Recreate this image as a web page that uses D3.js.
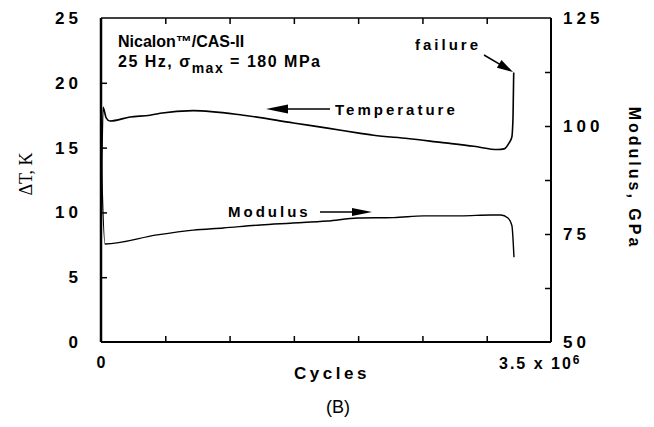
<!DOCTYPE html>
<html>
<head>
<meta charset="utf-8">
<script src="https://cdn.jsdelivr.net/npm/d3@7"></script>
<style>
  body { margin: 0; background: #fff; }
  text { font-family: "Liberation Sans", Arial, sans-serif; fill: #000; }
  .bold { font-weight: bold; }
</style>
</head>
<body>
<div id="chart"></div>
<script>
// Data (cycles in millions)
var tempCycles = [0, 0.016, 0.04, 0.07, 0.226, 0.382, 0.46, 0.717, 1.107, 1.497, 1.762, 2.019, 2.12, 2.385, 2.643, 2.9, 3.087, 3.134, 3.173, 3.195, 3.205, 3.21];
var tempDeltaT = [8.0, 18.1, 17.3, 17.05, 17.36, 17.5, 17.65, 17.85, 17.5, 16.9, 16.5, 16.1, 15.95, 15.7, 15.4, 15.1, 14.85, 14.9, 15.35, 15.8, 17.5, 20.8];

var modCycles = [0, 0.031, 0.437, 0.717, 0.951, 1.24, 1.473, 1.762, 1.996, 2.276, 2.51, 2.8, 3.03, 3.11, 3.165, 3.196, 3.212];
var modGPa = [95, 72.7, 74.8, 75.9, 76.4, 77.1, 77.5, 78.0, 78.7, 78.8, 79.2, 79.2, 79.4, 79.4, 78.7, 76.9, 69.6];

var xTicks = [0, 0.5, 1, 1.5, 2, 2.5, 3, 3.5];
var leftTicks = [0, 5, 10, 15, 20, 25];
var rightTicks = [50, 62.5, 75, 87.5, 100, 112.5, 125];
var rightLabels = [50, 75, 100, 125];

// Base chart space
var margin = {top: 18, right: 103, bottom: 85, left: 101},
width = 654 - margin.left - margin.right,
height = 427 - margin.top - margin.bottom;

var chart = d3.select('#chart').append('svg')
    .attr('width', 654)
    .attr('height', 427);
var g = chart.append('g')
    .attr('transform', 'translate(' + margin.left + ',' + margin.top + ')');

// Scales
var xScale = d3.scaleLinear().domain([0, 3.5]).range([0, width]);
var yLeft = d3.scaleLinear().domain([0, 25]).range([height, 0]);
var yRight = d3.scaleLinear().domain([50, 125]).range([height, 0]);

function styleAxis(sel) {
    sel.select('.domain').remove();
    sel.selectAll('.tick line').attr('stroke', '#000').attr('stroke-width', 1.5);
    sel.selectAll('.tick text').remove();
}

// Ticks (inward)
g.append('g').attr('transform', 'translate(0,' + height + ')')
    .call(d3.axisBottom(xScale).tickValues(xTicks.slice(1, -1)).tickSize(-6).tickFormat(''))
    .call(styleAxis);
g.append('g')
    .call(d3.axisTop(xScale).tickValues(xTicks.slice(1, -1)).tickSize(-6).tickFormat(''))
    .call(styleAxis);
g.append('g')
    .call(d3.axisLeft(yLeft).tickValues(leftTicks.slice(1, -1)).tickSize(-6).tickFormat(''))
    .call(styleAxis);
g.append('g').attr('transform', 'translate(' + width + ',0)')
    .call(d3.axisRight(yRight).tickValues(rightTicks.slice(1, -1)).tickSize(-6).tickFormat(''))
    .call(styleAxis);

// Frame
g.append('line').attr('x1', 0).attr('x2', width).attr('y1', 0).attr('y2', 0)
    .attr('stroke', '#000').attr('stroke-width', 1.5);
g.append('line').attr('x1', 0).attr('x2', width).attr('y1', height).attr('y2', height)
    .attr('stroke', '#000').attr('stroke-width', 2);
g.append('line').attr('x1', 0).attr('x2', 0).attr('y1', 0).attr('y2', height)
    .attr('stroke', '#000').attr('stroke-width', 2.5);
g.append('line').attr('x1', width).attr('x2', width).attr('y1', 0).attr('y2', height)
    .attr('stroke', '#000').attr('stroke-width', 2);

// Tick labels
g.selectAll('.lt').data(leftTicks).enter().append('text')
    .attr('class', 'bold')
    .attr('x', -19).attr('y', function(d) { return yLeft(d) + 6; })
    .attr('text-anchor', 'end')
    .attr('font-size', '17px')
    .attr('letter-spacing', '4px')
    .text(function(d) { return d; });
g.selectAll('.rt').data(rightLabels).enter().append('text')
    .attr('class', 'bold')
    .attr('x', width + 12).attr('y', function(d) { return yRight(d) + 6; })
    .attr('font-size', '17px')
    .attr('letter-spacing', '4px')
    .text(function(d) { return d; });

g.append('text').attr('class', 'bold')
    .attr('x', xScale(0)).attr('y', height + 26)
    .attr('text-anchor', 'middle')
    .attr('font-size', '16px')
    .text('0');
var xl = g.append('text').attr('class', 'bold')
    .attr('x', xScale(3.5) - 52).attr('y', height + 27)
    .attr('font-size', '16px')
    .attr('letter-spacing', '2px');
xl.append('tspan').text('3.5 x 10');
xl.append('tspan').attr('dy', -5).attr('font-size', '12px').text('6');

// Axis titles
g.append('text').attr('class', 'bold')
    .attr('x', width / 2 + 6).attr('y', height + 37)
    .attr('text-anchor', 'middle')
    .attr('font-size', '17px')
    .attr('letter-spacing', '3.5px')
    .text('Cycles');
chart.append('text')
    .attr('x', 338).attr('y', 413)
    .attr('text-anchor', 'middle')
    .attr('font-size', '18px')
    .text('(B)');
chart.append('text')
    .attr('transform', 'translate(32,174)rotate(-90)')
    .attr('text-anchor', 'middle')
    .style('font-family', '"Liberation Serif", "Times New Roman", serif')
    .attr('font-size', '18px')
    .text('\u0394T, K');
chart.append('text').attr('class', 'bold')
    .attr('transform', 'translate(629,178)rotate(90)')
    .attr('text-anchor', 'middle')
    .attr('font-size', '16px')
    .attr('letter-spacing', '3px')
    .text('Modulus,  GPa');

// Curves
var tempLine = d3.line()
    .x(function(d, i) { return xScale(tempCycles[i]); })
    .y(function(d) { return yLeft(d); })
    .curve(d3.curveMonotoneX);
var modLine = d3.line()
    .x(function(d, i) { return xScale(modCycles[i]); })
    .y(function(d) { return yRight(d); })
    .curve(d3.curveMonotoneX);

g.append('path').datum(tempDeltaT)
    .attr('d', tempLine)
    .attr('fill', 'none').attr('stroke', '#000').attr('stroke-width', 1.6);
g.append('path').datum(modGPa)
    .attr('d', modLine)
    .attr('fill', 'none').attr('stroke', '#000').attr('stroke-width', 1.4);

// Annotations
function arrow(x1, y1, x2, y2, hw, hl) {
    var a = Math.atan2(y2 - y1, x2 - x1);
    chart.append('line').attr('x1', x1).attr('y1', y1)
        .attr('x2', x2 - Math.cos(a) * hl * 0.7).attr('y2', y2 - Math.sin(a) * hl * 0.7)
        .attr('stroke', '#000').attr('stroke-width', 1.5);
    var bx = x2 - Math.cos(a) * hl, by = y2 - Math.sin(a) * hl;
    var px = -Math.sin(a) * hw / 2, py = Math.cos(a) * hw / 2;
    chart.append('path')
        .attr('d', 'M' + x2 + ',' + y2 + 'L' + (bx + px) + ',' + (by + py) + 'L' + (bx - px) + ',' + (by - py) + 'Z')
        .attr('fill', '#000');
}

chart.append('text').attr('class', 'bold')
    .attr('x', 118).attr('y', 47)
    .attr('font-size', '16px')
    .text('Nicalon\u2122/CAS-II');
var t2 = chart.append('text').attr('class', 'bold')
    .attr('x', 118).attr('y', 67)
    .attr('font-size', '16px')
    .attr('letter-spacing', '1.5px');
t2.append('tspan').text('25  Hz,  \u03c3');
t2.append('tspan').attr('dy', 6).attr('font-size', '14px').text('max');
t2.append('tspan').attr('dy', -6).text(' = 180  MPa');

chart.append('text').attr('class', 'bold')
    .attr('x', 335).attr('y', 115)
    .attr('font-size', '15px')
    .attr('letter-spacing', '3px')
    .text('Temperature');
arrow(330, 109, 266, 109, 9, 22);

chart.append('text').attr('class', 'bold')
    .attr('x', 228).attr('y', 217)
    .attr('font-size', '15px')
    .attr('letter-spacing', '3px')
    .text('Modulus');
arrow(320, 212, 372, 212, 8, 20);

chart.append('text').attr('class', 'bold')
    .attr('x', 415).attr('y', 50)
    .attr('font-size', '15px')
    .attr('letter-spacing', '3px')
    .text('failure');
arrow(484, 55, 513, 72, 9, 16);
</script>
</body>
</html>
